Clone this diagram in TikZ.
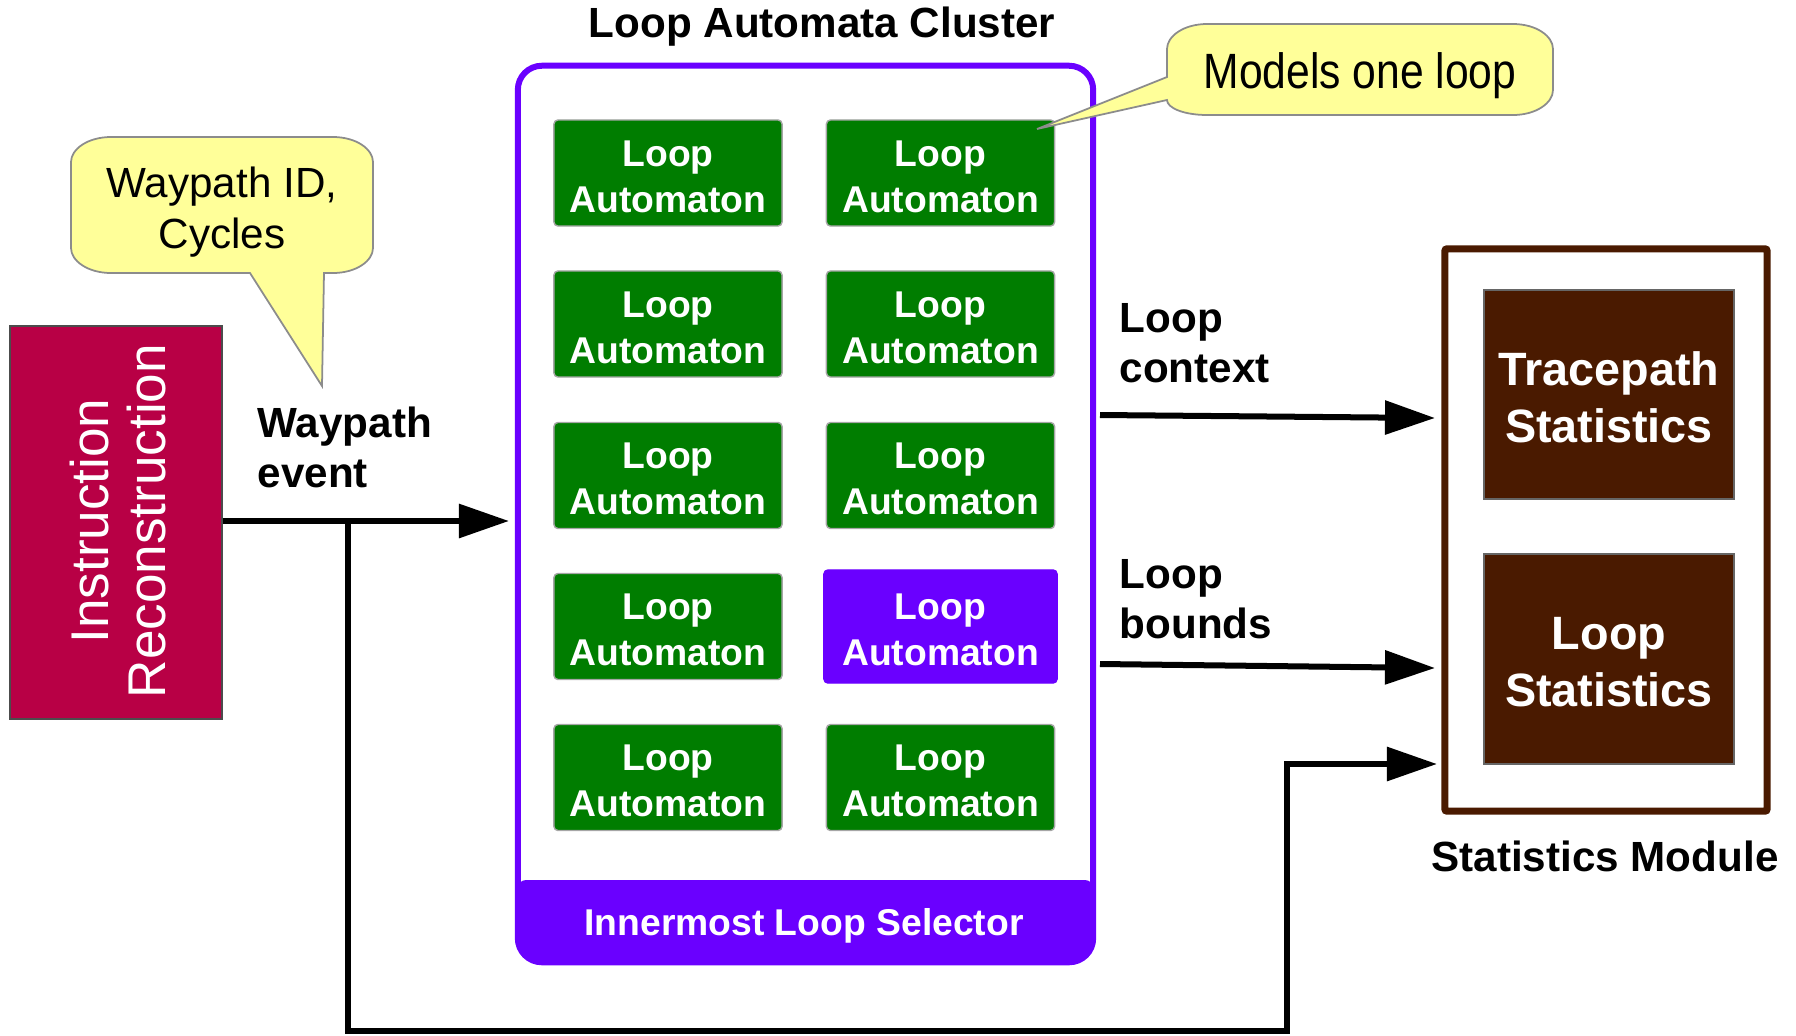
\documentclass[tikz,border=0pt]{standalone}
\usepackage{fontspec}
\setmainfont{Liberation Sans}
\newfontfamily\narrowsans[FakeStretch=0.86]{Liberation Sans}
\usetikzlibrary{arrows.meta}
\definecolor{autogreen}{HTML}{007D00}
\definecolor{selpurple}{HTML}{6A00FF}
\definecolor{reconred}{HTML}{B80045}
\definecolor{statbrown}{HTML}{4A1A00}
\definecolor{noteyellow}{HTML}{FFFF99}
\definecolor{notegray}{HTML}{8C8C8C}
\begin{document}
\begin{tikzpicture}[x=0.01cm,y=-0.01cm,
  autotext/.style={text=white, align=center, inner sep=0pt, yshift=-0.034cm,
    font=\fontsize{10.6}{13.1}\selectfont\bfseries},
  automaton/.style={rectangle, fill=autogreen, draw=black!35, line width=0.4pt,
    rounded corners=0.04cm, minimum width=2.28cm, minimum height=1.06cm, inner sep=0pt,
    label={[autotext]center:Loop\\Automaton}},
  activeautomaton/.style={automaton, fill=selpurple, draw=selpurple,
    minimum width=2.33cm, minimum height=1.13cm},
  stattext/.style={text=white, align=center, inner sep=0pt, yshift=-0.028cm,
    font=\fontsize{13.3}{16.2}\selectfont\bfseries},
  statbox/.style={rectangle, fill=statbrown, draw=black!60, line width=0.4pt,
    minimum width=2.5cm, minimum height=2.09cm, inner sep=0pt,
    label={[stattext]center:#1}},
  edgelabel/.style={anchor=west, align=left, inner sep=0pt,
    font=\fontsize{12}{14.2}\selectfont\bfseries},
  flow/.style={line width=0.06cm, -{Triangle[length=0.5cm, width=0.33cm]}},
  note/.style={fill=noteyellow, draw=notegray, line width=0.5pt}
]
\useasboundingbox (0,0) rectangle (1796,1036);

% Instruction reconstruction source
\node[rectangle, fill=reconred, draw=black!70, line width=0.5pt,
  minimum width=2.12cm, minimum height=3.93cm, inner sep=0pt] (recon) at (116,522.5) {};
\node[rotate=90, text=white, align=center, inner sep=0pt,
  font=\fontsize{15.1}{16.2}\selectfont] (reconlabel) at (118,521) {Instruction\\Reconstruction};

% Loop automata cluster: selector band, frame and title
\fill[selpurple, rounded corners=0.08cm] (518,880) rectangle (1093,935);
\fill[selpurple, rounded corners=0.23cm] (518,900) rectangle (1093,962);
\node[text=white, inner sep=0pt, font=\fontsize{10.6}{13}\selectfont\bfseries]
  (selector) at (804,925.5) {Innermost Loop Selector};
\node[rectangle, draw=selpurple, line width=0.06cm, rounded corners=0.24cm,
  minimum width=5.75cm, minimum height=8.96cm, inner sep=0pt] (cluster) at (805.5,514) {};
\node[inner sep=0pt, font=\fontsize{12}{14}\selectfont\bfseries] (clustertitle) at (822,26.5)
  {Loop Automata Cluster};

% Grid of loop automata
\node[automaton] (a11) at (668,173) {};
\node[automaton] (a12) at (940.5,173) {};
\node[automaton] (a21) at (668,324) {};
\node[automaton] (a22) at (940.5,324) {};
\node[automaton] (a31) at (668,475.5) {};
\node[automaton] (a32) at (940.5,475.5) {};
\node[automaton] (a41) at (668,626.5) {};
\node[activeautomaton] (a42) at (940.5,626.5) {};
\node[automaton] (a51) at (668,777.5) {};
\node[automaton] (a52) at (940.5,777.5) {};

% Statistics module
\node[rectangle, draw=statbrown, line width=0.07cm, rounded corners=0.02cm,
  minimum width=3.22cm, minimum height=5.62cm, inner sep=0pt] (statmod) at (1606,530) {};
\node[statbox={Tracepath\\Statistics}] (trace) at (1609,394.5) {};
\node[statbox={Loop\\Statistics}, minimum height=2.1cm] (loopstat) at (1609,659) {};
\node[inner sep=0pt, font=\fontsize{12}{14}\selectfont\bfseries] (statlabel) at (1605,856)
  {Statistics Module};

% Connection points
\coordinate (wpto) at (509,521);
\coordinate (split) at (348,521);
\coordinate (downleft) at (348,1031);
\coordinate (downright) at (1287,1031);
\coordinate (riseup) at (1287,764);
\coordinate (cyclesto) at (1437,764);
\coordinate (ctxfrom) at (1100,415);
\coordinate (ctxto) at (1435,418);
\coordinate (bndfrom) at (1100,664);
\coordinate (bndto) at (1435,668);

% Connectors
\draw[flow] (recon.east |- wpto) -- (wpto);
\draw[flow, line join=miter] (split) -- (downleft) -- (downright) -- (riseup) -- (cyclesto);
\draw[flow] (ctxfrom) -- (ctxto);
\draw[flow] (bndfrom) -- (bndto);

% Connector labels
\node[edgelabel] (wplabel) at (257,447) {Waypath\\event};
\node[edgelabel] (ctxlabel) at (1119,343) {Loop\\context};
\node[edgelabel] (bndlabel) at (1119,599.5) {Loop\\bounds};

% Callout: waypath contents
\draw[note] (111,137) -- (333,137) .. controls (356,137) and (373,149) .. (373,162)
  -- (373,248) .. controls (373,261) and (356,273) .. (333,273)
  -- (324,273) -- (322,386) -- (250,273)
  -- (111,273) .. controls (88,273) and (71,261) .. (71,248)
  -- (71,162) .. controls (71,149) and (88,137) .. (111,137) -- cycle;
\node[align=center, inner sep=0pt, font=\fontsize{12}{14.5}\selectfont] (wpnote) at (222,212)
  {Waypath ID,\\Cycles};

% Callout: one automaton per loop
\draw[note] (1207,24) -- (1513,24) .. controls (1536,24) and (1553,36) .. (1553,49)
  -- (1553,90) .. controls (1553,103) and (1536,115) .. (1513,115)
  -- (1207,115) .. controls (1184,115) and (1167,108) .. (1167,100)
  -- (1037,129) -- (1167,77)
  -- (1167,49) .. controls (1167,36) and (1184,24) .. (1207,24) -- cycle;
\node[inner sep=0pt, font=\fontsize{14.1}{16}\narrowsans] (modelnote) at (1360,75.5)
  {Models one loop};

\end{tikzpicture}
\end{document}
